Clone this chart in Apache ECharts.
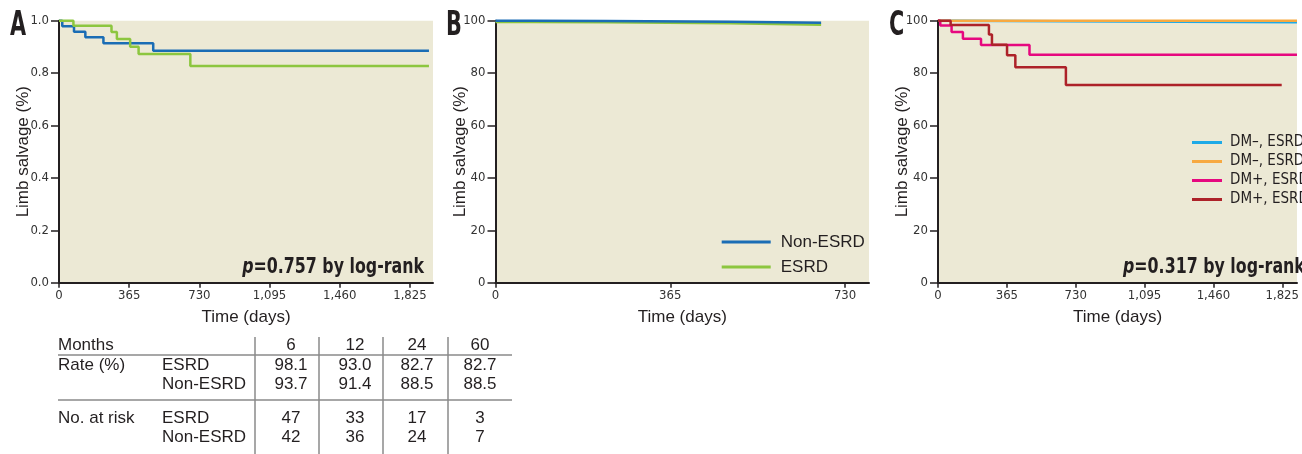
<!DOCTYPE html>
<html>
<head>
<meta charset="utf-8">
<script src="https://cdn.jsdelivr.net/npm/echarts@6.0.0/dist/echarts.min.js"></script>
<style>
html,body{margin:0;padding:0;background:#fff;}
#c{width:1302px;height:454px;}
</style>
</head>
<body>
<div id="c"></div>
<script>
// ---------- Data ----------
// Panel A (proportion)
const aNonEsrdDays = [0, 17, 78, 137, 231, 490, 1924];
const aNonEsrdSurv = [1.0, 0.979, 0.958, 0.937, 0.914, 0.885, 0.885];
const aEsrdDays = [0, 75, 273, 301, 370, 414, 683, 1924];
const aEsrdSurv = [1.0, 0.981, 0.957, 0.930, 0.901, 0.873, 0.827, 0.827];
// Panel B (%)
const bNonEsrdDays = [0, 75, 231, 489, 680];
const bNonEsrdSurv = [100, 99.9, 99.6, 99.2, 99.2];
const bEsrdDays = [0, 75, 231, 489, 680];
const bEsrdSurv = [99.5, 99.4, 99.0, 98.5, 98.5];
// Panel C (%)
const cNegNegDays = [0, 70, 1903];
const cNegNegSurv = [100, 99.4, 99.4];
const cNegPosDays = [0, 1903];
const cNegPosSurv = [100, 100];
const cPosNegDays = [0, 12, 72, 132, 228, 485, 1903];
const cPosNegSurv = [100, 98.2, 95.7, 93.1, 90.7, 87.0, 87.0];
const cPosPosDays = [0, 67, 270, 286, 366, 410, 678, 1822];
const cPosPosSurv = [100, 98.4, 94.7, 90.8, 86.8, 82.2, 75.5, 75.5];

const xTicksLong = [0, 365, 730, 1095, 1460, 1825];
const xTicksShort = [0, 365, 730];
const groupNamesC = ['DM\u2013, ESRD\u2013', 'DM\u2013, ESRD+', 'DM+, ESRD\u2013', 'DM+, ESRD+'];
const pValueA = '0.757';
const pValueC = '0.317';

// Table
const tableMonths = [6, 12, 24, 60];
const rateEsrd = [98.1, 93.0, 82.7, 82.7];
const rateNonEsrd = [93.7, 91.4, 88.5, 88.5];
const riskEsrd = [47, 33, 17, 3];
const riskNonEsrd = [42, 36, 24, 7];

// ---------- Styles ----------
const narrow = '"DejaVu Sans Condensed","Liberation Sans Narrow",sans-serif';
const regular = '"Liberation Sans",Arial,sans-serif';
const ink = '#231f20';
const bg = '#ece9d5';
const cBlue = '#1a6db5', cGreen = '#8cc63f';
const cCyan = '#1eaae7', cOrange = '#f7a941', cMagenta = '#e6087f', cRed = '#ad2229';

const zip = (d, v) => d.map((t, i) => [t, v[i]]);
const fmtThousands = v => String(v).replace(/\B(?=(\d{3})+(?!\d))/g, ',');

const gridTop = 20.7, gridBottom = 454 - 282.7;
const grids = [
  {left: 59, width: 374, top: gridTop, bottom: gridBottom},
  {left: 495.5, width: 373.5, top: gridTop, bottom: gridBottom},
  {left: 938, right: 0, top: gridTop, bottom: gridBottom}
].map(g => Object.assign({show: true, backgroundColor: bg, borderWidth: 0, containLabel: false}, g));

function xAxis(idx, max, ticks) {
  return {
    type: 'value', gridIndex: idx, min: 0, max: max,
    name: 'Time (days)', nameLocation: 'middle', nameGap: 26, nameMoveOverlap: false,
    nameTextStyle: {fontFamily: regular, fontSize: 17, color: ink},
    axisLine: {show: true, onZero: false, lineStyle: {color: ink, width: 2}},
    axisTick: {show: true, length: 5, lineStyle: {color: ink, width: 1.5}, customValues: ticks},
    axisLabel: {show: true, margin: 6, fontFamily: narrow, fontSize: 13, color: '#333',
      customValues: ticks, formatter: v => fmtThousands(v)},
    splitLine: {show: false}
  };
}
function yAxis(idx, max, interval, fmt) {
  return {
    type: 'value', gridIndex: idx, min: 0, max: max, interval: interval,
    name: 'Limb salvage (%)', nameLocation: 'middle', nameGap: 27, nameMoveOverlap: false,
    nameTextStyle: {fontFamily: regular, fontSize: 17, color: ink},
    axisLine: {show: true, onZero: false, lineStyle: {color: ink, width: 2}},
    axisTick: {show: true, length: 8, lineStyle: {color: ink, width: 1.5}},
    axisLabel: {show: true, margin: 10, fontFamily: narrow, fontSize: 13, color: '#333', formatter: fmt},
    splitLine: {show: false}
  };
}
function km(name, idx, days, surv, color) {
  return {
    type: 'line', name: name, xAxisIndex: idx, yAxisIndex: idx,
    data: zip(days, surv), step: 'end', showSymbol: false, symbol: 'none',
    color: color, lineStyle: {color: color, width: 2.5}, itemStyle: {color: color},
    clip: false, silent: true, z: 3
  };
}

// ---------- Table graphics ----------
const colX = [291, 355, 417, 480];
const tableText = [];
const T = (x, y, text, align) => ({type: 'text', x: x, y: y, silent: true,
  style: {text: text, fontFamily: regular, fontSize: 17, fill: ink, align: align || 'left', verticalAlign: 'middle'}});
tableText.push(T(58, 345, 'Months'));
tableText.push(T(58, 365, 'Rate (%)'));
tableText.push(T(162, 365, 'ESRD'));
tableText.push(T(162, 384, 'Non-ESRD'));
tableText.push(T(58, 418, 'No. at risk'));
tableText.push(T(162, 418, 'ESRD'));
tableText.push(T(162, 437, 'Non-ESRD'));
tableMonths.forEach((m, i) => {
  tableText.push(T(colX[i], 345, String(m), 'center'));
  tableText.push(T(colX[i], 365, rateEsrd[i].toFixed(1), 'center'));
  tableText.push(T(colX[i], 384, rateNonEsrd[i].toFixed(1), 'center'));
  tableText.push(T(colX[i], 418, String(riskEsrd[i]), 'center'));
  tableText.push(T(colX[i], 437, String(riskNonEsrd[i]), 'center'));
});
const lineColor = '#8a8a8a';
const tableLines = [
  {type: 'line', shape: {x1: 58, y1: 355, x2: 512, y2: 355}, style: {stroke: lineColor, lineWidth: 1.5}},
  {type: 'line', shape: {x1: 58, y1: 400, x2: 512, y2: 400}, style: {stroke: lineColor, lineWidth: 1.5}}
];
[255, 319, 383, 448].forEach(x => tableLines.push(
  {type: 'line', shape: {x1: x, y1: 337, x2: x, y2: 454}, style: {stroke: lineColor, lineWidth: 1.5}}));

const letter = (x, t) => ({type: 'text', x: x, y: 26, scaleX: 0.68, silent: true,
  style: {text: t, fontFamily: narrow, fontWeight: 'bold', fontSize: 34, fill: ink, verticalAlign: 'middle'}});
const pText = (x, y, p, align) => ({type: 'text', x: x, y: y, scaleX: 0.8, silent: true, z: 10,
  style: {text: '{i|p}=' + p + ' by log-rank', align: align, verticalAlign: 'middle',
    fontFamily: narrow, fontWeight: 'bold', fontSize: 22, fill: ink,
    rich: {i: {fontStyle: 'italic', fontFamily: narrow, fontWeight: 'bold', fontSize: 22, fill: ink}}}});

const chart = echarts.init(document.getElementById('c'), null, {renderer: 'canvas'});
chart.setOption({
  animation: false,
  backgroundColor: '#ffffff',
  grid: grids,
  xAxis: [xAxis(0, 1945, xTicksLong), xAxis(1, 780, xTicksShort), xAxis(2, 1903, xTicksLong)],
  yAxis: [yAxis(0, 1, 0.2, v => v.toFixed(1)), yAxis(1, 100, 20, v => String(v)), yAxis(2, 100, 20, v => String(v))],
  legend: [
    {orient: 'vertical', left: 716.7, top: 227, icon: 'rect', itemWidth: 49, itemHeight: 3, itemGap: 5,
      data: ['Non-ESRD', 'ESRD'], selectedMode: false,
      textStyle: {fontFamily: regular, fontSize: 17, color: ink, lineHeight: 20, padding: [0, 0, 0, 5]}},
    {orient: 'vertical', left: 1187, top: 129, icon: 'rect', itemWidth: 30, itemHeight: 3, itemGap: 2,
      data: groupNamesC, selectedMode: false,
      textStyle: {fontFamily: narrow, fontSize: 15, color: ink, lineHeight: 17, padding: [0, 0, 0, 3]}}
  ],
  series: [
    km('Non-ESRD', 0, aNonEsrdDays, aNonEsrdSurv, cBlue),
    km('ESRD', 0, aEsrdDays, aEsrdSurv, cGreen),
    km('ESRD', 1, bEsrdDays, bEsrdSurv, cGreen),
    km('Non-ESRD', 1, bNonEsrdDays, bNonEsrdSurv, cBlue),
    km(groupNamesC[0], 2, cNegNegDays, cNegNegSurv, cCyan),
    km(groupNamesC[1], 2, cNegPosDays, cNegPosSurv, cOrange),
    km(groupNamesC[2], 2, cPosNegDays, cPosNegSurv, cMagenta),
    km(groupNamesC[3], 2, cPosPosDays, cPosPosSurv, cRed)
  ],
  graphic: [
    letter(10, 'A'), letter(446, 'B'), letter(889, 'C'),
    pText(424, 267, pValueA, 'right'),
    pText(1123, 267, pValueC, 'left')
  ].concat(tableLines, tableText)
});
</script>
</body>
</html>
